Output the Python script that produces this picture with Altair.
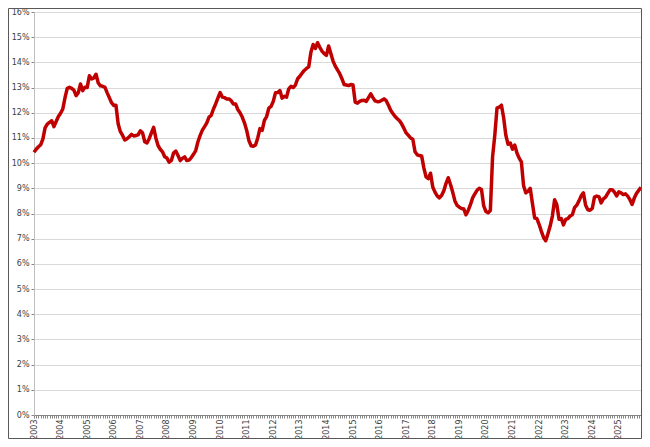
import pandas as pd
import altair as alt

# maandwaarden in procenten
y2003 = [10.43, 10.55, 10.65, 10.72, 10.95, 11.40, 11.55, 11.62, 11.68, 11.45, 11.65, 11.85]
y2004 = [11.98, 12.15, 12.60, 12.97, 13.01, 12.97, 12.90, 12.68, 12.80, 13.14, 12.88, 13.01]
y2005 = [13.00, 13.47, 13.34, 13.38, 13.53, 13.18, 13.07, 13.05, 13.02, 12.80, 12.60, 12.40]
y2006 = [12.29, 12.30, 11.55, 11.25, 11.10, 10.92, 10.97, 11.05, 11.14, 11.08, 11.10, 11.12]
y2007 = [11.28, 11.20, 10.85, 10.80, 10.97, 11.20, 11.42, 11.00, 10.70, 10.55, 10.45, 10.25]
y2008 = [10.20, 10.04, 10.10, 10.40, 10.48, 10.30, 10.10, 10.19, 10.25, 10.10, 10.12, 10.22]
y2009 = [10.35, 10.50, 10.85, 11.10, 11.31, 11.45, 11.60, 11.83, 11.90, 12.15, 12.35, 12.58]
y2010 = [12.80, 12.62, 12.60, 12.55, 12.55, 12.48, 12.35, 12.35, 12.13, 12.00, 11.83, 11.60]
y2011 = [11.30, 10.90, 10.69, 10.67, 10.72, 11.00, 11.37, 11.30, 11.70, 11.85, 12.18, 12.25]
y2012 = [12.45, 12.79, 12.80, 12.88, 12.58, 12.65, 12.62, 12.95, 13.05, 13.00, 13.10, 13.35]
y2013 = [13.45, 13.57, 13.68, 13.76, 13.82, 14.40, 14.71, 14.55, 14.78, 14.60, 14.45, 14.35]
y2014 = [14.28, 14.65, 14.35, 14.05, 13.85, 13.70, 13.55, 13.35, 13.12, 13.10, 13.08, 13.12]
y2015 = [13.10, 12.42, 12.38, 12.45, 12.49, 12.50, 12.45, 12.60, 12.75, 12.60, 12.47, 12.44]
y2016 = [12.45, 12.50, 12.55, 12.48, 12.30, 12.10, 11.97, 11.85, 11.76, 11.68, 11.55, 11.38]
y2017 = [11.20, 11.10, 11.00, 10.95, 10.45, 10.33, 10.30, 10.28, 9.80, 9.45, 9.38, 9.60]
y2018 = [9.05, 8.85, 8.70, 8.62, 8.72, 8.90, 9.20, 9.42, 9.15, 8.85, 8.50, 8.32]
y2019 = [8.25, 8.20, 8.18, 7.95, 8.12, 8.35, 8.62, 8.78, 8.92, 9.00, 8.95, 8.30]
y2020 = [8.08, 8.03, 8.12, 10.25, 11.10, 12.18, 12.22, 12.30, 11.80, 11.10, 10.75, 10.80]
y2021 = [10.55, 10.72, 10.40, 10.20, 10.05, 9.10, 8.82, 8.88, 9.00, 8.40, 7.82, 7.80]
y2022 = [7.57, 7.30, 7.05, 6.92, 7.20, 7.50, 7.90, 8.55, 8.35, 7.77, 7.80, 7.55]
y2023 = [7.77, 7.80, 7.90, 7.95, 8.23, 8.33, 8.50, 8.70, 8.82, 8.33, 8.15, 8.13]
y2024 = [8.20, 8.65, 8.69, 8.67, 8.42, 8.58, 8.65, 8.80, 8.94, 8.94, 8.85, 8.70]
y2025 = [8.86, 8.82, 8.75, 8.78, 8.69, 8.55, 8.36, 8.62, 8.80, 8.92, 9.04]

jaren = {
    2003: y2003, 2004: y2004, 2005: y2005, 2006: y2006, 2007: y2007, 2008: y2008,
    2009: y2009, 2010: y2010, 2011: y2011, 2012: y2012, 2013: y2013, 2014: y2014,
    2015: y2015, 2016: y2016, 2017: y2017, 2018: y2018, 2019: y2019, 2020: y2020,
    2021: y2021, 2022: y2022, 2023: y2023, 2024: y2024, 2025: y2025,
}

rows = []
for jaar, waarden in jaren.items():
    for i, w in enumerate(waarden):
        rows.append({'Maand': f'{jaar}-{i + 1:02d}', 'Waarde': w})
df = pd.DataFrame(rows)

W, H = 607, 403

line = alt.Chart(df).mark_line(color='#C00000', strokeWidth=3.5, strokeJoin='round').encode(
    x=alt.X('Maand:O', sort=None, scale=alt.Scale(type='point', padding=0),
            axis=alt.Axis(title=None, grid=False, labelAngle=-90, labelOverlap=False,
                          labelExpr="substring(datum.value, 5, 7) == '01' ? substring(datum.value, 0, 4) : ''",
                          tickSize=3, labelPadding=1, domainColor='#868686', tickColor='#868686',
                          labelFontSize=8, labelColor='#404040')),
    y=alt.Y('Waarde:Q', scale=alt.Scale(domain=[0, 16], nice=False),
            axis=alt.Axis(title=None, values=list(range(17)), labelExpr="datum.value + '%'",
                          gridColor='#D9D9D9', domainColor='#BFBFBF', tickColor='#868686',
                          tickSize=3, labelPadding=2, labelFontSize=8, labelColor='#404040')),
)

# rand om het hele diagram
frame = alt.Chart(pd.DataFrame({'k': [0]})).mark_rect(
    fillOpacity=0, stroke='#595959', strokeWidth=1
).encode(x=alt.value(-25.5), x2=alt.value(W + 0.5), y=alt.value(-3.5), y2=alt.value(H + 23.5))

chart = alt.layer(line, frame).properties(
    width=W, height=H,
    autosize=alt.AutoSizeParams(type='none'),
    padding={'left': 26, 'right': 1, 'top': 4, 'bottom': 24},
).configure(font='DejaVu Sans').configure_view(strokeWidth=0)

chart.save("out.html", embed_options={"renderer": "svg", "actions": False})
